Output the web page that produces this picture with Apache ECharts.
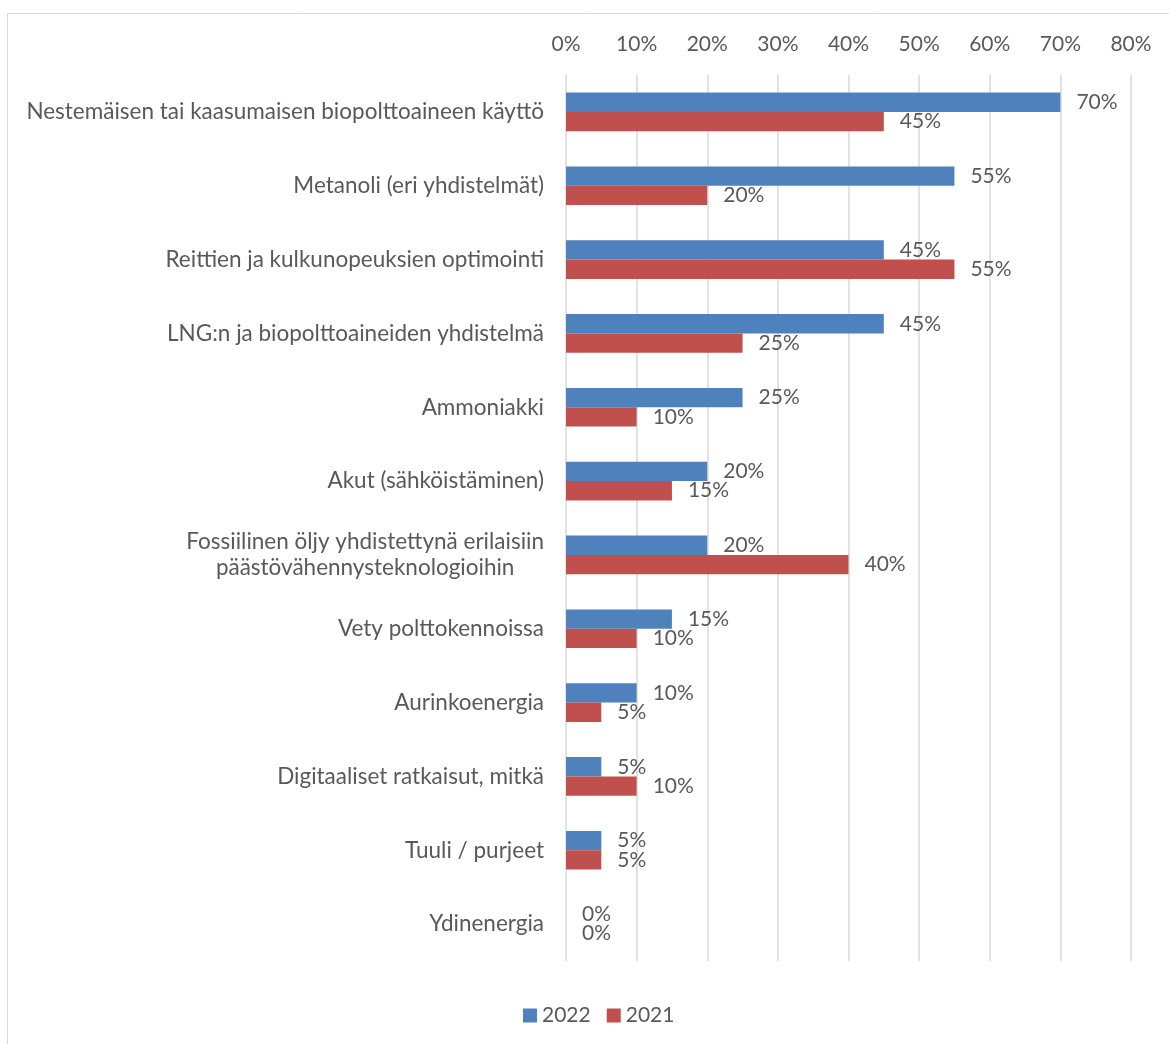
<!DOCTYPE html>
<html>
<head>
<meta charset="utf-8">
<script src="https://cdn.jsdelivr.net/npm/echarts@6/dist/echarts.min.js"></script>
<style>
html,body{margin:0;padding:0;background:#fff;}
#chart{width:1169px;height:1044px;}
</style>
</head>
<body>
<div id="chart"></div>
<script>
const categories = [
  'Nestemäisen tai kaasumaisen biopolttoaineen käyttö',
  'Metanoli (eri yhdistelmät)',
  'Reittien ja kulkunopeuksien optimointi',
  'LNG:n ja biopolttoaineiden yhdistelmä',
  'Ammoniakki',
  'Akut (sähköistäminen)',
  'Fossiilinen öljy yhdistettynä erilaisiin\npäästövähennysteknologioihin',
  'Vety polttokennoissa',
  'Aurinkoenergia',
  'Digitaaliset ratkaisut, mitkä',
  'Tuuli / purjeet',
  'Ydinenergia'
];
const values2022 = [70, 55, 45, 45, 25, 20, 20, 15, 10, 5, 5, 0];
const values2021 = [45, 20, 55, 25, 10, 15, 40, 10, 5, 10, 5, 0];
const seriesNames = ['2022', '2021'];
const xTicks = [0, 10, 20, 30, 40, 50, 60, 70, 80];

const FONT = 'Lato';
const TXT = '#595959';
const chart = echarts.init(document.getElementById('chart'));
const labelCfg = {
  show: true, position: 'right', distance: 16,
  formatter: p => p.value + '%',
  fontFamily: FONT, fontSize: 21, color: TXT
};
chart.setOption({
  animation: false,
  backgroundColor: '#fff',
  graphic: [{
    type: 'rect', silent: true,
    shape: { x: 7.5, y: 13.5, width: 1300, height: 1200 },
    style: { fill: 'none', stroke: '#d9d9d9', lineWidth: 1 }
  }],
  grid: { left: 566, right: 38, top: 75, bottom: 83, containLabel: false },
  legend: {
    data: seriesNames,
    left: 518, top: 1000,
    icon: 'rect', itemWidth: 14, itemHeight: 14, itemGap: 16,
    textStyle: { fontFamily: FONT, fontSize: 21, color: TXT }
  },
  xAxis: {
    type: 'value', position: 'top',
    min: xTicks[0], max: xTicks[xTicks.length - 1], interval: 10,
    axisLine: { show: false }, axisTick: { show: false },
    axisLabel: { formatter: '{value}%', fontFamily: FONT, fontSize: 21, color: TXT, margin: 20 },
    splitLine: { show: true, lineStyle: { color: '#d9d9d9', width: 1.5 } }
  },
  yAxis: {
    type: 'category', inverse: true, data: categories,
    axisLine: { show: false }, axisTick: { show: false },
    axisLabel: {
      margin: 22, interval: 0,
      formatter: v => v.split('\n').map(s => '{c|' + s + '}').join('\n'),
      rich: { c: { align: 'center', fontFamily: FONT, fontSize: 22.5, color: TXT, lineHeight: 26 } }
    }
  },
  series: [
    { name: seriesNames[0], type: 'bar', data: values2022, barWidth: 19.3, barGap: '0%',
      itemStyle: { color: '#4F81BD' }, label: labelCfg },
    { name: seriesNames[1], type: 'bar', data: values2021, barWidth: 19.3, barGap: '0%',
      itemStyle: { color: '#C0504D' }, label: labelCfg }
  ]
});
</script>
</body>
</html>
